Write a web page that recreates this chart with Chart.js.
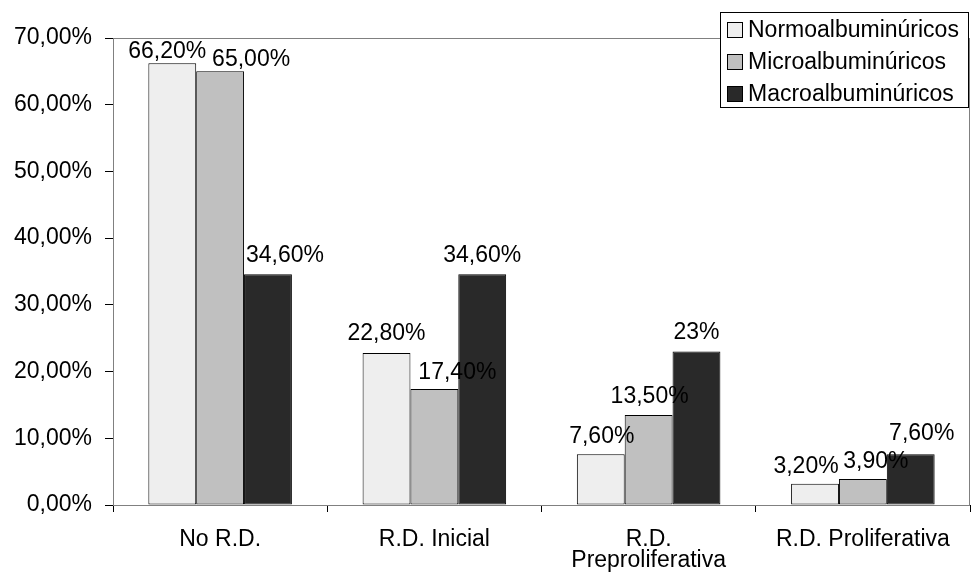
<!DOCTYPE html>
<html>
<head>
<meta charset="utf-8">
<script src="https://cdn.jsdelivr.net/npm/chart.js@4.4.1/dist/chart.umd.min.js"></script>
<style>
  html, body { margin: 0; padding: 0; background: #ffffff; }
  #wrap { width: 972px; height: 579px; }
</style>
</head>
<body>
<div id="wrap"><canvas id="chart" width="972" height="579"></canvas></div>
<script>
// Categories (retinopathy stage) and series (albuminuria group), values in %
const categories = ['No R.D.', 'R.D. Inicial', ['R.D.', 'Preproliferativa'], 'R.D. Proliferativa'];
const seriesNames = ['Normoalbuminúricos', 'Microalbuminúricos', 'Macroalbuminúricos'];
const normoValues = [66.2, 22.8, 7.6, 3.2];
const microValues = [65.0, 17.4, 13.5, 3.9];
const macroValues = [34.6, 34.6, 23, 7.6];
// decimals shown in each value label
const normoDecimals = [2, 2, 2, 2];
const microDecimals = [2, 2, 2, 2];
const macroDecimals = [2, 2, 0, 2];
// y axis range
const yMin = 0;
const yMax = 70;
const yStep = 10;

const FONT = "'Liberation Sans', Arial, Helvetica, sans-serif";
const FONT_SIZE = 23;
const fillColors = ['#eeeeee', '#c0c0c0', '#292929'];
// label nudges relative to the bar top: [dx, gap above bar]
const labelNudges = [
  [[-5, 5], [0, 13], [1, 11], [-9, 11]],
  [[31, 5], [23, 10], [1, 12], [13, 11]],
  [[17, 12], [0, 12], [0, 13], [11, 14]]
];

function pct(v, d) {
  return v.toFixed(d).replace('.', ',') + '%';
}

const seriesValues = [normoValues, microValues, macroValues];
const seriesDecimals = [normoDecimals, microDecimals, macroDecimals];

const datasets = seriesNames.map((name, i) => ({
  label: name,
  data: seriesValues[i],
  backgroundColor: fillColors[i],
  borderColor: '#000000',
  borderWidth: 1,
  borderSkipped: false,
  categoryPercentage: 0.67,
  barPercentage: 1.0
}));

// Gray frame around the plot area (top/right visible; axes draw over left/bottom)
const plotFrame = {
  id: 'plotFrame',
  beforeDatasetsDraw(chart) {
    const { ctx, chartArea: a } = chart;
    ctx.save();
    ctx.strokeStyle = '#808080';
    ctx.lineWidth = 1;
    ctx.strokeRect(Math.round(a.left) + 0.5, Math.round(a.top) + 0.5,
                   Math.round(a.right - a.left) - 1, Math.round(a.bottom - a.top));
    ctx.restore();
  }
};

// Value labels above each bar
const valueLabels = {
  id: 'valueLabels',
  afterDatasetsDraw(chart) {
    const { ctx } = chart;
    ctx.save();
    ctx.font = FONT_SIZE + 'px ' + FONT;
    ctx.fillStyle = '#000000';
    ctx.textAlign = 'center';
    ctx.textBaseline = 'alphabetic';
    chart.data.datasets.forEach((ds, i) => {
      const meta = chart.getDatasetMeta(i);
      meta.data.forEach((bar, j) => {
        const [dx, gap] = labelNudges[i][j];
        ctx.fillText(pct(ds.data[j], seriesDecimals[i][j]), bar.x + dx, bar.y - gap);
      });
    });
    ctx.restore();
  }
};

// Boxed legend in the upper right corner
const boxedLegend = {
  id: 'boxedLegend',
  afterDraw(chart) {
    const { ctx } = chart;
    const x0 = 720.5, y0 = 12.5, w = 248, h = 95;
    ctx.save();
    ctx.fillStyle = '#ffffff';
    ctx.fillRect(x0, y0, w, h);
    ctx.strokeStyle = '#000000';
    ctx.lineWidth = 1;
    ctx.strokeRect(x0, y0, w, h);
    ctx.font = FONT_SIZE + 'px ' + FONT;
    ctx.textAlign = 'left';
    ctx.textBaseline = 'middle';
    chart.data.datasets.forEach((ds, i) => {
      const cy = 30 + i * 32;
      ctx.fillStyle = ds.backgroundColor;
      ctx.fillRect(727.5, cy - 7.5, 15, 15);
      ctx.strokeStyle = '#000000';
      ctx.strokeRect(727.5, cy - 7.5, 15, 15);
      ctx.fillStyle = '#000000';
      ctx.fillText(ds.label, 748, cy + 1);
    });
    ctx.restore();
  }
};

new Chart(document.getElementById('chart'), {
  type: 'bar',
  data: { labels: categories, datasets },
  options: {
    responsive: false,
    animation: false,
    devicePixelRatio: 1,
    layout: { padding: { top: 38, right: 2, left: 0, bottom: 0 } },
    plugins: {
      legend: { display: false },
      tooltip: { enabled: false },
      title: { display: false }
    },
    scales: {
      x: {
        afterFit(scale) { scale.height = 74; },
        grid: {
          offset: true,
          drawOnChartArea: false,
          drawTicks: true,
          tickLength: 7,
          color: '#000000',
          lineWidth: 1
        },
        border: { display: true, color: '#000000', width: 1 },
        ticks: {
          color: '#000000',
          padding: 17,
          maxRotation: 0,
          autoSkip: false,
          font: { family: FONT, size: FONT_SIZE, lineHeight: '21px' }
        }
      },
      y: {
        min: yMin,
        max: yMax,
        afterFit(scale) { scale.width = 113; },
        grid: {
          drawOnChartArea: false,
          drawTicks: true,
          tickLength: 8,
          color: '#000000',
          lineWidth: 1
        },
        border: { display: true, color: '#000000', width: 1 },
        ticks: {
          stepSize: yStep,
          color: '#000000',
          padding: 13,
          font: { family: FONT, size: FONT_SIZE },
          callback: (v) => pct(v, 2)
        }
      }
    }
  },
  plugins: [plotFrame, valueLabels, boxedLegend]
});
</script>
</body>
</html>
